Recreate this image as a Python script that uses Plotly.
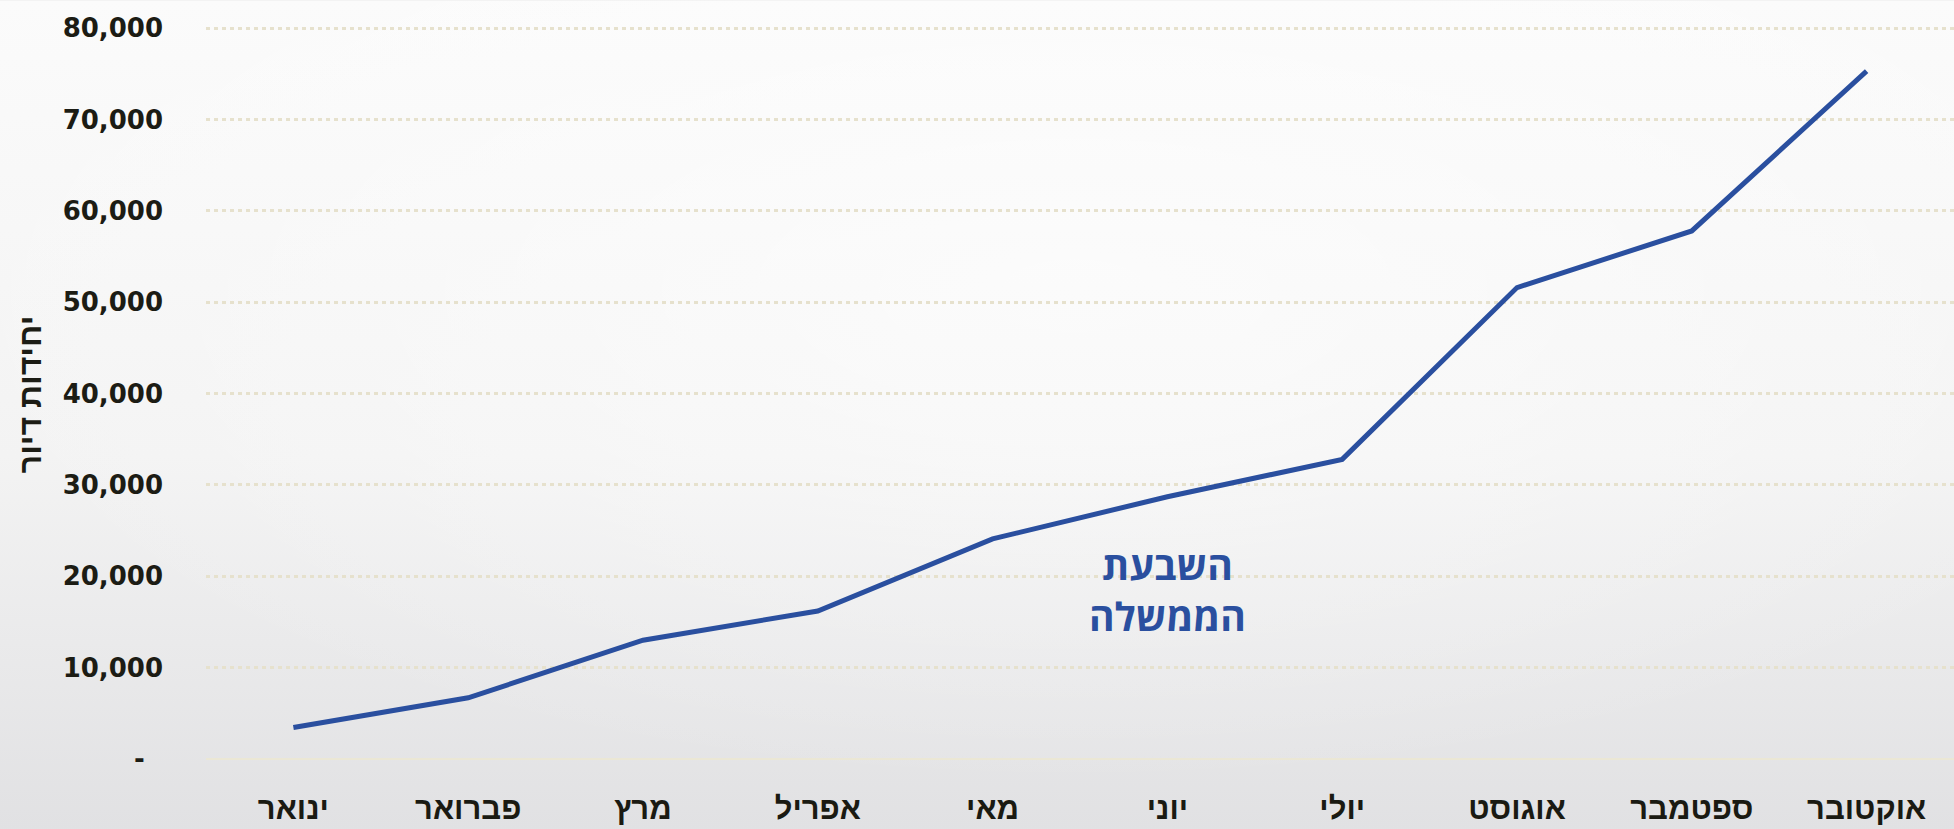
import base64
import plotly.graph_objects as go

months = ["ינואר", "פברואר", "מרץ", "אפריל", "מאי", "יוני", "יולי", "אוגוסט", "ספטמבר", "אוקטובר"]
units = [3450, 6700, 13000, 16200, 24100, 28700, 32800, 51600, 57800, 75300]
tick_vals = [0, 10000, 20000, 30000, 40000, 50000, 60000, 70000, 80000]
tick_text = ["-\u00a0\u00a0", "10,000", "20,000", "30,000", "40,000", "50,000", "60,000", "70,000", "80,000"]
y_title = "יחידות דיור"
note_text = "השבעת<br>הממשלה"
note_month = "יוני"
note_value = 18500

W, H = 1954, 829
ML, MR, MT, MB = 206, 0, 18.5, 70
PW, PH = W - ML - MR, H - MT - MB

svg = f'''<svg xmlns="http://www.w3.org/2000/svg" width="{W}" height="{H}" viewBox="0 0 {W} {H}" preserveAspectRatio="none">
<defs>
<linearGradient id="g" x1="0" y1="0" x2="0" y2="1">
<stop offset="0" stop-color="#fbfbfb"/>
<stop offset="0.55" stop-color="#f3f3f3"/>
<stop offset="1" stop-color="#e1e1e3"/>
</linearGradient>
<radialGradient id="r" cx="0.55" cy="0.35" r="0.6">
<stop offset="0" stop-color="#ffffff" stop-opacity="0.6"/>
<stop offset="1" stop-color="#ffffff" stop-opacity="0"/>
</radialGradient>
</defs>
<rect width="{W}" height="{H}" fill="url(#g)"/>
<rect width="{W}" height="{H}" fill="url(#r)"/>
</svg>'''
bg_src = "data:image/svg+xml;base64," + base64.b64encode(svg.encode()).decode()

fig = go.Figure()
fig.add_trace(go.Scatter(
    x=months, y=units, mode="lines",
    line=dict(color="#2a4f9f", width=5),
    hoverinfo="skip",
))

fig.add_annotation(
    x=note_month, y=note_value, xref="x", yref="y",
    text=note_text, showarrow=False,
    font=dict(family="Open Sans, Liberation Sans, DejaVu Sans", size=39, color="#2a4f9f", weight="bold"),
    align="center",
)
fig.add_annotation(
    x=-(ML - 30) / PW, y=(759 - 394) / (759 - MT), xref="paper", yref="paper",
    text=y_title, showarrow=False, textangle=-90,
    font=dict(family="Liberation Sans, DejaVu Sans", size=32, color="#1c1c14", weight="bold"),
    xanchor="center", yanchor="middle",
)

fig.add_layout_image(dict(
    source=bg_src, xref="paper", yref="paper",
    x=-ML / PW, y=1 + MT / PH, sizex=W / PW, sizey=H / PH,
    xanchor="left", yanchor="top", sizing="stretch", layer="below",
))

fig.update_layout(
    width=W, height=H,
    margin=dict(l=ML, r=MR, t=MT, b=MB, pad=0),
    paper_bgcolor="#f0f0f0",
    plot_bgcolor="rgba(0,0,0,0)",
    showlegend=False,
    xaxis=dict(
        type="category", range=[-0.5, 9.5],
        showgrid=False, zeroline=False, showline=False, ticks="",
        tickfont=dict(family="Liberation Sans, DejaVu Sans", size=31, color="#1a1a12", weight="bold"),
        ticklabelstandoff=28,
    ),
    yaxis=dict(
        range=[0, 81000],
        tickvals=tick_vals, ticktext=tick_text,
        showgrid=True, gridcolor="#e6e1cd", gridwidth=3, griddash="4px,4px",
        zeroline=True, zerolinecolor="#ebe7d5", zerolinewidth=2,
        showline=False, ticks="",
        tickfont=dict(family="DejaVu Sans", size=26, color="#1c1c14", weight="bold"),
        ticklabelstandoff=42,
    ),
)

fig.write_html(
    "out.html",
    config={"displayModeBar": False},
    post_script="document.body.style.margin='0';document.body.style.overflow='hidden';",
)
